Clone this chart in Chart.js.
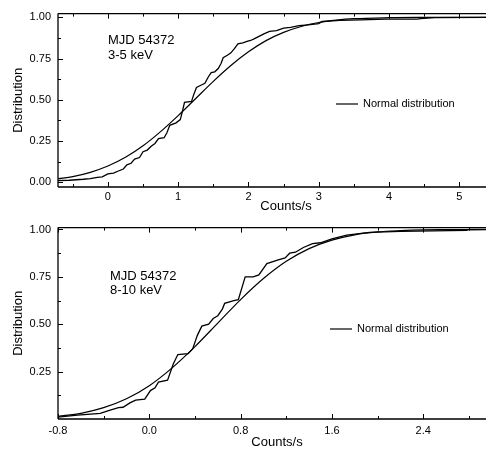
<!DOCTYPE html>
<html>
<head>
<meta charset="utf-8">
<script src="https://cdn.jsdelivr.net/npm/chart.js@4"></script>
<style>
  body { margin: 0; background: #fff; }
  canvas { position: absolute; left: 0; }
  #topChart { top: 0; }
  #bottomChart { top: 214px; }
</style>
</head>
<body>
<canvas id="topChart" width="486" height="214"></canvas>
<canvas id="bottomChart" width="486" height="238"></canvas>
<script>
// ---- top panel (3-5 keV) ----
var topEmpX = [-0.71, -0.55, -0.45, -0.35, -0.25, -0.15, -0.08, 0.0, 0.08, 0.15, 0.22, 0.27, 0.33, 0.38, 0.45, 0.50, 0.56, 0.62, 0.67, 0.72, 0.80, 0.84, 0.88, 0.97, 1.03, 1.06, 1.09, 1.19, 1.22, 1.26, 1.33, 1.38, 1.43, 1.47, 1.52, 1.57, 1.61, 1.64, 1.70, 1.75, 1.80, 1.85, 1.92, 1.98, 2.03, 2.08, 2.15, 2.22, 2.30, 2.40, 2.50, 2.60, 2.72, 2.85, 3.00, 3.05, 3.30, 3.60, 3.95, 4.40, 4.45, 4.65, 5.38];
var topEmpY = [0.010, 0.012, 0.015, 0.018, 0.022, 0.030, 0.032, 0.050, 0.055, 0.068, 0.080, 0.105, 0.115, 0.140, 0.150, 0.185, 0.195, 0.220, 0.235, 0.265, 0.270, 0.300, 0.345, 0.360, 0.380, 0.430, 0.485, 0.490, 0.530, 0.575, 0.590, 0.600, 0.640, 0.665, 0.670, 0.690, 0.720, 0.755, 0.770, 0.785, 0.810, 0.840, 0.845, 0.855, 0.860, 0.870, 0.885, 0.900, 0.915, 0.920, 0.935, 0.940, 0.950, 0.955, 0.962, 0.975, 0.982, 0.985, 0.990, 0.990, 0.993, 0.998, 1.0];
var topFitX = [-0.71, -0.5, -0.25, 0, 0.25, 0.5, 0.75, 1.0, 1.25, 1.5, 1.75, 2.0, 2.25, 2.5, 2.75, 3.0, 3.25, 3.5, 4.0, 4.5, 5.0, 5.38];
var topFitY = [0.021, 0.034, 0.060, 0.098, 0.151, 0.221, 0.307, 0.404, 0.508, 0.612, 0.708, 0.791, 0.859, 0.909, 0.945, 0.969, 0.983, 0.992, 0.998, 0.9997, 1.0, 1.0];
var topXTicks = [0, 1, 2, 3, 4, 5];
var topXLabels = ['0', '1', '2', '3', '4', '5'];
var topXMinor = [-0.5, 0.5, 1.5, 2.5, 3.5, 4.5];
var topYTicks = [0, 0.25, 0.5, 0.75, 1.0];
var topYLabels = ['0.00', '0.25', '0.50', '0.75', '1.00'];
var topYMinor = [0.125, 0.375, 0.625, 0.875];

// ---- bottom panel (8-10 keV) ----
var botEmpX = [-0.80, -0.63, -0.43, -0.35, -0.27, -0.23, -0.17, -0.12, -0.04, 0.01, 0.05, 0.08, 0.16, 0.21, 0.25, 0.34, 0.38, 0.42, 0.46, 0.52, 0.56, 0.60, 0.64, 0.66, 0.74, 0.78, 0.84, 0.91, 0.96, 1.03, 1.13, 1.19, 1.23, 1.28, 1.35, 1.43, 1.50, 1.55, 1.60, 1.73, 1.93, 2.20, 2.78, 2.80, 2.95];
var botEmpY = [0.010, 0.020, 0.030, 0.045, 0.060, 0.062, 0.085, 0.100, 0.105, 0.150, 0.165, 0.195, 0.205, 0.290, 0.340, 0.345, 0.370, 0.440, 0.490, 0.500, 0.530, 0.545, 0.580, 0.610, 0.625, 0.630, 0.750, 0.750, 0.760, 0.820, 0.840, 0.850, 0.875, 0.880, 0.905, 0.925, 0.930, 0.940, 0.950, 0.970, 0.985, 0.990, 0.995, 1.0, 1.0];
var botFitX = [-0.8, -0.6, -0.4, -0.2, 0, 0.2, 0.4, 0.6, 0.8, 1.0, 1.2, 1.4, 1.6, 1.8, 2.0, 2.2, 2.4, 2.6, 2.95];
var botFitY = [0.014, 0.030, 0.060, 0.107, 0.176, 0.270, 0.382, 0.506, 0.630, 0.741, 0.832, 0.899, 0.944, 0.972, 0.987, 0.994, 0.998, 0.999, 1.0];
var botXTicks = [-0.8, 0.0, 0.8, 1.6, 2.4];
var botXLabels = ['-0.8', '0.0', '0.8', '1.6', '2.4'];
var botXMinor = [-0.4, 0.4, 1.2, 2.0, 2.8];
var botYTicks = [0.25, 0.5, 0.75, 1.0];
var botYLabels = ['0.25', '0.50', '0.75', '1.00'];
var botYMinor = [0.125, 0.375, 0.625, 0.875];

var FONT = '"Liberation Sans", Arial, sans-serif';

function pts(xs, ys) {
    return xs.map(function (x, i) { return { x: x, y: ys[i] }; });
}

// frame, inward ticks, annotations and legend
var framePlugin = {
    id: 'frame',
    afterDraw: function (chart, args, o) {
        var ctx = chart.ctx, a = chart.chartArea;
        var xs = chart.scales.x, ys = chart.scales.y;
        ctx.save();
        ctx.strokeStyle = '#000';
        ctx.lineWidth = 1.3;
        ctx.beginPath();
        ctx.moveTo(a.left, a.top); ctx.lineTo(a.right, a.top);
        ctx.moveTo(a.left, a.bottom); ctx.lineTo(a.right, a.bottom);
        ctx.moveTo(a.left, a.top); ctx.lineTo(a.left, a.bottom);
        ctx.stroke();

        ctx.lineWidth = 1;
        ctx.beginPath();
        function xTick(v, len) {
            var px = Math.round(xs.getPixelForValue(v)) + 0.5;
            ctx.moveTo(px, a.bottom); ctx.lineTo(px, a.bottom - len);
            ctx.moveTo(px, a.top); ctx.lineTo(px, a.top + len);
        }
        function yTick(v, len) {
            var py = Math.round(ys.getPixelForValue(v)) + 0.5;
            ctx.moveTo(a.left, py); ctx.lineTo(a.left + len, py);
        }
        xs.ticks.forEach(function (t) { xTick(t.value, 5); });
        o.xMinor.forEach(function (v) { xTick(v, 3); });
        ys.ticks.forEach(function (t) { yTick(t.value, 5); });
        o.yMinor.forEach(function (v) { yTick(v, 3); });
        ctx.stroke();

        ctx.fillStyle = '#000';
        ctx.textBaseline = 'middle';
        ctx.font = '13px ' + FONT;
        ctx.textAlign = 'left';
        o.notes.forEach(function (n) { ctx.fillText(n.text, n.x, n.y); });
        ctx.textAlign = 'center';
        ctx.fillText('Counts/s', o.xTitle[0], o.xTitle[1]);

        // legend entry
        var L = o.legend;
        ctx.beginPath();
        ctx.lineWidth = 1.2;
        ctx.moveTo(L.x, L.y); ctx.lineTo(L.x + 22, L.y);
        ctx.stroke();
        ctx.font = '11px ' + FONT;
        ctx.textAlign = 'left';
        ctx.fillText('Normal distribution', L.x + 27, L.y);
        ctx.restore();
    }
};

function makeChart(id, cfg) {
    return new Chart(document.getElementById(id), {
        type: 'scatter',
        data: {
            datasets: [{
                data: pts(cfg.empX, cfg.empY),
                showLine: true, borderColor: '#000', borderWidth: 1.3,
                pointRadius: 0, tension: 0
            }, {
                data: pts(cfg.fitX, cfg.fitY),
                showLine: true, borderColor: '#000', borderWidth: 1.2,
                pointRadius: 0, tension: 0.3, cubicInterpolationMode: 'monotone'
            }]
        },
        options: {
            responsive: false,
            animation: false,
            devicePixelRatio: 1,
            layout: { padding: { top: cfg.padTop, right: 0, left: 0, bottom: 0 } },
            plugins: {
                legend: { display: false },
                tooltip: { enabled: false },
                frame: cfg.frame
            },
            scales: {
                x: {
                    type: 'linear', min: cfg.xMin, max: cfg.xMax,
                    grid: { display: false, drawTicks: false },
                    border: { display: false },
                    afterBuildTicks: function (s) { s.ticks = cfg.xTicks.map(function (v) { return { value: v }; }); },
                    afterFit: function (s) { s.height = cfg.xHeight; },
                    ticks: {
                        padding: cfg.xPad, color: '#000', maxRotation: 0, autoSkip: false,
                        font: { family: FONT, size: 11 },
                        callback: function (v, i) { return cfg.xLabels[i]; }
                    }
                },
                y: {
                    type: 'linear', min: cfg.yMin, max: cfg.yMax,
                    grid: { display: false, drawTicks: false },
                    border: { display: false },
                    afterBuildTicks: function (s) { s.ticks = cfg.yTicks.map(function (v) { return { value: v }; }); },
                    afterFit: function (s) { s.width = 58; },
                    title: {
                        display: true, text: 'Distribution', color: '#000',
                        font: { family: FONT, size: 13 }, padding: { top: 11, bottom: 0 }
                    },
                    ticks: {
                        padding: 7, color: '#000', autoSkip: false,
                        font: { family: FONT, size: 11 },
                        callback: function (v, i) { return cfg.yLabels[i]; }
                    }
                }
            }
        },
        plugins: [framePlugin]
    });
}

makeChart('topChart', {
    empX: topEmpX, empY: topEmpY, fitX: topFitX, fitY: topFitY,
    xMin: -0.71, xMax: 5.38, yMin: -0.029, yMax: 1.023,
    xTicks: topXTicks, xLabels: topXLabels, yTicks: topYTicks, yLabels: topYLabels,
    padTop: 6, xHeight: 27, xPad: 3,
    frame: {
        xMinor: topXMinor, yMinor: topYMinor,
        notes: [{ text: 'MJD 54372', x: 108, y: 40 }, { text: '3-5 keV', x: 108, y: 55 }],
        xTitle: [286, 206],
        legend: { x: 336, y: 104 }
    }
});

makeChart('bottomChart', {
    empX: botEmpX, empY: botEmpY, fitX: botFitX, fitY: botFitY,
    xMin: -0.8, xMax: 2.95, yMin: 0, yMax: 1.01,
    xTicks: botXTicks, xLabels: botXLabels, yTicks: botYTicks, yLabels: botYLabels,
    padTop: 10, xHeight: 33, xPad: 5,
    frame: {
        xMinor: botXMinor, yMinor: botYMinor,
        notes: [{ text: 'MJD 54372', x: 110, y: 62 }, { text: '8-10 keV', x: 110, y: 76 }],
        xTitle: [277, 228],
        legend: { x: 330, y: 115 }
    }
});
</script>
</body>
</html>
